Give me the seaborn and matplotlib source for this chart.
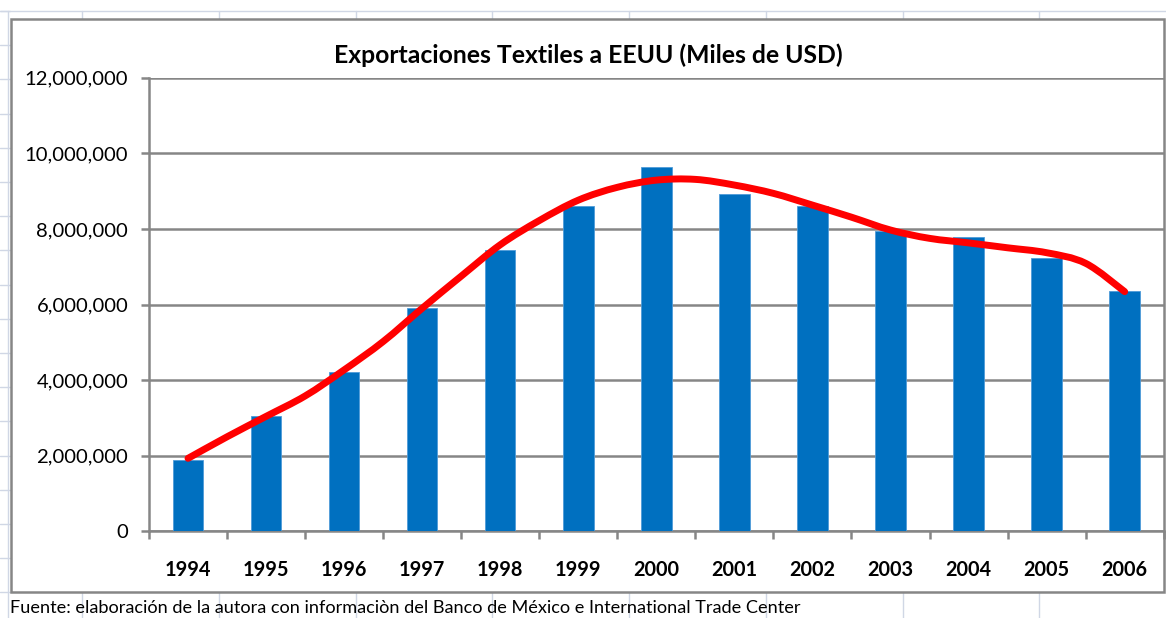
import numpy as np
import pandas as pd
import seaborn as sns
import matplotlib
matplotlib.use("Agg")
import matplotlib.pyplot as plt
from matplotlib.lines import Line2D
from matplotlib.patches import Rectangle, PathPatch
from matplotlib.path import Path

# ---- data ----
years = ["1994", "1995", "1996", "1997", "1998", "1999", "2000",
         "2001", "2002", "2003", "2004", "2005", "2006"]
exports = [1886000, 3050000, 4220000, 5900000, 7440000, 8610000, 9650000,
           8930000, 8610000, 7940000, 7790000, 7220000, 6360000]
# red smoothed line, read every half year (category position, value)
trend_pos = [0, 0.5, 1, 1.5, 2, 2.5, 3, 3.5, 4, 4.5, 5, 5.5, 6,
             6.5, 7, 7.5, 8, 8.5, 9, 9.5, 10, 10.5, 11, 11.5, 12]
trend_val = [1930000, 2500000, 3040000, 3580000, 4270000, 5020000, 5900000,
             6750000, 7580000, 8220000, 8760000, 9100000, 9290000,
             9310000, 9160000, 8940000, 8630000, 8310000, 7970000,
             7750000, 7630000, 7500000, 7370000, 7090000, 6340000]
yticks = [0, 2000000, 4000000, 6000000, 8000000, 10000000, 12000000]
title = "Exportaciones Textiles a EEUU (Miles de USD)"
source = "Fuente: elaboración de la autora con informaciòn del Banco de México e International Trade Center"

W, H = 1166, 618
sns.set_theme(style="white")
plt.rcParams["font.family"] = ["Lato", "DejaVu Sans"]

fig = plt.figure(figsize=(W / 100, H / 100), dpi=100)
fig.patch.set_facecolor("white")

def fx(px):
    return px / W

def fy(py):
    return 1 - py / H

# spreadsheet cell grid behind the chart
cell = "#D0D7E5"
for x in [8, 82, 219, 356, 492, 629, 766, 903, 1039]:
    fig.add_artist(Line2D([fx(x), fx(x)], [fy(11), fy(618)], color=cell, lw=1.0,
                          transform=fig.transFigure, zorder=0))
fig.add_artist(Line2D([0, 1], [fy(11), fy(11)], color=cell, lw=1.0,
                      transform=fig.transFigure, zorder=0))
for y in np.arange(11, 618, 34.2):
    fig.add_artist(Line2D([0, fx(10)], [fy(y), fy(y)], color=cell, lw=1.0,
                          transform=fig.transFigure, zorder=0))

# chart border
fig.add_artist(Rectangle((fx(11), fy(592)), fx(1164) - fx(11), fy(19) - fy(592),
                         transform=fig.transFigure, facecolor="white",
                         edgecolor="#868686", lw=1.8, zorder=1))

ax = fig.add_axes([fx(149), fy(531.3), fx(1163.7) - fx(149), fy(77.7) - fy(531.3)])
ax.set_zorder(2)
ax.patch.set_alpha(0)

df = pd.DataFrame({"year": years, "value": exports})
sns.barplot(data=df, x="year", y="value", color="#0070C0", saturation=1,
            width=0.39, ax=ax, zorder=3, edgecolor="#4F9BD8", linewidth=0.6)

# smooth red line through the read points (Catmull-Rom as Bezier)
pts = np.column_stack([np.array(trend_pos, dtype=float),
                       np.array(trend_val, dtype=float)])
ext = np.vstack([pts[0], pts, pts[-1]])
verts = [tuple(pts[0])]
codes = [Path.MOVETO]
for i in range(len(pts) - 1):
    p0, p1, p2, p3 = ext[i], ext[i + 1], ext[i + 2], ext[i + 3]
    c1 = p1 + (p2 - p0) / 6
    c2 = p2 - (p3 - p1) / 6
    verts += [tuple(c1), tuple(c2), tuple(p2)]
    codes += [Path.CURVE4] * 3
ax.add_patch(PathPatch(Path(verts, codes), fill=False, edgecolor="#FF0000",
                       lw=5, capstyle="round", joinstyle="round", zorder=4))

ax.set_xlim(-0.5, len(years) - 0.5)
ax.set_ylim(0, 12000000)
ax.set_yticks(yticks)
ax.set_yticklabels([f"{v:,.0f}" for v in yticks])
ax.yaxis.grid(True, color="#868686", lw=1.8, zorder=0)
ax.set_axisbelow(True)
ax.set_xlabel("")
ax.set_ylabel("")

for s in ["top", "right"]:
    ax.spines[s].set_visible(False)
for s in ["left", "bottom"]:
    ax.spines[s].set_color("#868686")
    ax.spines[s].set_linewidth(1.8)

ax.tick_params(axis="y", which="major", left=True, length=6, width=1.8,
               color="#868686", pad=9, labelsize=14.6, labelcolor="black")
ax.set_xticks(np.arange(len(years)))
ax.set_xticklabels(years)
ax.set_xticks(np.arange(-0.5, len(years)), minor=True)
ax.tick_params(axis="x", which="major", bottom=False, length=0, pad=21,
               labelsize=14.3, labelcolor="black")
ax.tick_params(axis="x", which="minor", bottom=True, length=6, width=1.8,
               color="#868686")
for lab in ax.get_xticklabels():
    lab.set_fontweight("bold")

fig.text(fx(588), fy(55), title, ha="center", va="center",
         fontsize=17.8, fontweight="bold", color="black")
fig.text(fx(10), fy(613), source, ha="left", va="baseline", fontsize=13.1,
         color="black")

fig.savefig("out.png", dpi=100)
